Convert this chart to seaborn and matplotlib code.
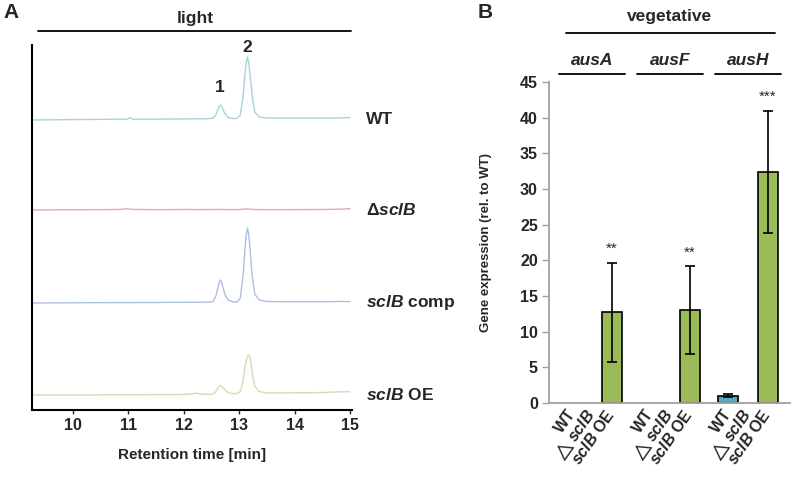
import numpy as np
import pandas as pd
import matplotlib
matplotlib.use('Agg')
import matplotlib.pyplot as plt
import matplotlib.transforms as mtransforms
import seaborn as sns

# ---- panel A: chromatogram traces ----
times = [9.27, 9.8, 10.3, 10.8, 10.98, 11.03, 11.08, 11.5, 12.0, 12.15, 12.22, 12.3,
         12.45, 12.53, 12.58, 12.62, 12.64, 12.66, 12.68, 12.70, 12.74, 12.80, 12.88,
         12.96, 13.02, 13.07, 13.11, 13.13, 13.15, 13.17, 13.19, 13.21, 13.23, 13.28,
         13.36, 13.5, 14.0, 14.5, 14.8, 15.0]
wt_trace = [0, 0.3, 0.5, 0.8, 0.8, 2.2, 0.8, 0.9, 1.0, 1.2, 1.2, 1.2, 1.3, 1.8, 5.0, 11.5,
            14, 15.0, 14, 11.5, 6.5, 2.5, 1.5, 1.5, 5.0, 23, 49, 58, 63, 58, 49, 38, 26, 8,
            3, 2, 2, 2, 2, 2.5]
dsclb_trace = [0, 0.2, 0.3, 0.5, 1.2, 0.8, 0.6, 0.3, 0.5, 0.5, 0.4, 0.4, 0.5, 0.4, 0.6, 0.6,
               0.6, 0.5, 0.5, 0.5, 0.5, 0.4, 0.4, 0.4, 0.5, 0.8, 1.0, 1.0, 1.0, 0.9, 0.8, 0.7,
               0.6, 0.5, 0.4, 0.3, 0.4, 0.5, 0.8, 1.3]
comp_trace = [0, 0.2, 0.3, 0.4, 0.4, 0.4, 0.4, 0.5, 0.7, 0.8, 0.8, 0.8, 0.9, 1.5, 7, 17, 21,
              23, 21, 17, 9, 3, 1.2, 1.0, 5, 27, 58, 69, 75, 69, 58, 44, 30, 9, 3, 1.5, 1.2,
              1.2, 1.5, 1.5]
oe_trace = [0, 0, 0, 0.3, 0.3, 0.3, 0.3, 0.4, 0.5, 1.0, 1.8, 1.0, 0.6, 1.0, 3.5, 7.5, 9, 9.5,
            9, 8, 5, 2.5, 1.5, 1.3, 3.5, 14, 30, 35, 38.5, 40, 39, 33, 24, 9, 3.5, 2, 2.2,
            2.4, 3.2, 3.2]
trace_names = ['WT', 'dsclB', 'comp', 'OE']
trace_labels = ['WT', r'$\Delta\mathit{sclB}$', r'$\mathit{sclB}$ comp', r'$\mathit{sclB}$ OE']

# ---- panel B: gene expression ----
genes = ['ausA', 'ausF', 'ausH']
strains = ['WT', 'dsclB', 'OE']
strain_labels = ['WT', r'$\triangle\mathit{sclB}$', r'$\mathit{sclB}$ OE']
expr_wt = [0, 0, 1.0]
expr_dsclb = [0, 0, 0]
expr_oe = [12.7, 13.0, 32.4]
sd_wt = [0, 0, 0.2]
sd_dsclb = [0, 0, 0]
sd_oe = [6.95, 6.15, 8.6]
stars_oe = ['**', '**', '***']

# styling
sns.set_style('white')
plt.rcParams['font.family'] = ['Liberation Sans', 'DejaVu Sans']
plt.rcParams['font.weight'] = 'bold'
plt.rcParams['mathtext.fontset'] = 'custom'
plt.rcParams['mathtext.rm'] = 'Liberation Sans:bold'
plt.rcParams['mathtext.it'] = 'Liberation Sans:italic:bold'
plt.rcParams['mathtext.bf'] = 'Liberation Sans:bold'
plt.rcParams['mathtext.fallback'] = 'stix'

W, H = 791, 478
fig = plt.figure(figsize=(W / 100, H / 100), dpi=100)

# ================= panel A =================
ax_a = fig.add_axes([32 / W, 1 - 410 / H, 320 / W, 365 / H])
offsets = {'WT': 290, 'dsclB': 200, 'comp': 107, 'OE': 15}
trace_colors = {'WT': '#a9d3dc', 'dsclB': '#e3aaaa', 'comp': '#aebfde', 'OE': '#dcd8b6'}
rows = []
for name, vals in zip(trace_names, [wt_trace, dsclb_trace, comp_trace, oe_trace]):
    for t, v in zip(times, vals):
        rows.append({'time': t, 'signal': v + offsets[name], 'trace': name})
df_a = pd.DataFrame(rows)
sns.lineplot(data=df_a, x='time', y='signal', hue='trace', palette=trace_colors,
             estimator=None, sort=False, legend=False, linewidth=1.0, ax=ax_a)

ax_a.set_xlim(9.26, 15.036)
ax_a.set_ylim(0, 365)
ax_a.set_yticks([])
ax_a.set_xticks(range(10, 16))
ax_a.tick_params(axis='x', direction='out', length=3, width=1, labelsize=11.5,
                 bottom=True, pad=3)
for lab in ax_a.get_xticklabels():
    lab.set_fontweight('bold')
for s in ['top', 'right']:
    ax_a.spines[s].set_visible(False)
for s in ['left', 'bottom']:
    ax_a.spines[s].set_color('black')
    ax_a.spines[s].set_linewidth(1.5)
ax_a.set_xlabel('Retention time [min]', fontsize=11, fontweight='bold')
ax_a.set_ylabel('')
ax_a.xaxis.set_label_coords(0.5, -0.105)

for name, lab in zip(trace_names, trace_labels):
    ax_a.text(1.044, offsets[name], lab, transform=mtransforms.blended_transform_factory(
        ax_a.transAxes, ax_a.transData), fontsize=12.5, fontweight='bold', va='center',
        ha='left', clip_on=False)
ax_a.text(12.64, 323, '1', fontsize=12.5, fontweight='bold', ha='center', va='center')
ax_a.text(13.14, 363, '2', fontsize=12.5, fontweight='bold', ha='center', va='center',
          clip_on=False)
ax_a.plot([0.019, 0.997], [1.038, 1.038], transform=ax_a.transAxes, color='black',
          linewidth=1.3, clip_on=False)
ax_a.text(0.51, 1.073, 'light', transform=ax_a.transAxes, fontsize=12.5, fontweight='bold',
          ha='center', va='center')

# ================= panel B =================
ax_b = fig.add_axes([549 / W, 1 - 403 / H, 241 / W, 321 / H])
values = [expr_wt, expr_dsclb, expr_oe]
sds = [sd_wt, sd_dsclb, sd_oe]
rows = []
for si, s in enumerate(strains):
    for gi, g in enumerate(genes):
        rows.append({'gene': g, 'strain': s, 'value': values[si][gi]})
df_b = pd.DataFrame(rows)
bar_colors = {'WT': '#4bacc6', 'dsclB': '#9bbb59', 'OE': '#9bbb59'}
sns.barplot(data=df_b, x='gene', y='value', hue='strain', order=genes, hue_order=strains,
            palette=bar_colors, saturation=1, width=0.76, gap=0, edgecolor='black',
            linewidth=1.2, errorbar=None, legend=False, ax=ax_b)

bars = sorted(ax_b.patches, key=lambda p: p.get_x())
flat_vals, flat_sd, flat_lab, flat_star = [], [], [], []
for gi in range(len(genes)):
    for si in range(len(strains)):
        flat_vals.append(values[si][gi])
        flat_sd.append(sds[si][gi])
        flat_lab.append(strain_labels[si])
        flat_star.append(stars_oe[gi] if strains[si] == 'OE' else '')

centers = []
for p, v, e, st in zip(bars, flat_vals, flat_sd, flat_star):
    cx = p.get_x() + p.get_width() / 2
    centers.append(cx)
    if p.get_height() == 0:
        p.set_edgecolor('none')
    if e > 0:
        ax_b.errorbar(cx, v, yerr=e, fmt='none', ecolor='black', elinewidth=1.2,
                      capsize=3.8, capthick=1.2)
    if st:
        ax_b.text(cx, v + e + 1.9, st, ha='center', va='center', fontsize=11,
                  fontweight='normal')

ax_b.set_xlim(-0.55, 2.54)
ax_b.set_ylim(0, 45)
ax_b.set_yticks(range(0, 50, 5))
ax_b.set_xticks(centers, labels=flat_lab)
for lab in ax_b.get_xticklabels():
    lab.set_rotation(55)
    lab.set_ha('right')
    lab.set_va('center')
    lab.set_rotation_mode('anchor')
    lab.set_fontweight('bold')
for lab in ax_b.get_yticklabels():
    lab.set_fontweight('bold')
ax_b.tick_params(axis='x', length=0, labelsize=11.5, pad=6)
ax_b.tick_params(axis='y', direction='out', length=5, width=1, color='#a0a0a0',
                 labelsize=11.5, left=True, pad=3)
for s in ['top', 'right']:
    ax_b.spines[s].set_visible(False)
for s in ['left', 'bottom']:
    ax_b.spines[s].set_color('#a0a0a0')
    ax_b.spines[s].set_linewidth(1.3)
ax_b.set_xlabel('')
ax_b.set_ylabel('Gene expression (rel. to WT)', fontsize=9.5, fontweight='bold')
ax_b.yaxis.set_label_coords(-0.235, 0.5)

trans_b = mtransforms.blended_transform_factory(ax_b.transData, ax_b.transAxes)
for gi, g in enumerate(genes):
    ax_b.plot([gi - 0.42, gi + 0.42], [1.025, 1.025], transform=trans_b, color='black',
              linewidth=1.3, clip_on=False)
    ax_b.text(gi, 1.066, g, transform=trans_b, fontsize=12.5, fontweight='bold',
              fontstyle='italic', ha='center', va='center')
ax_b.plot([-0.33, 2.35], [1.153, 1.153], transform=trans_b, color='black',
          linewidth=1.3, clip_on=False)
ax_b.text(1.0, 1.203, 'vegetative', transform=trans_b, fontsize=12.5, fontweight='bold',
          ha='center', va='center')

# panel letters
fig.text(3 / W, 1 - 12 / H, 'A', fontsize=15, fontweight='bold', va='center', ha='left')
fig.text(478 / W, 1 - 12 / H, 'B', fontsize=15, fontweight='bold', va='center', ha='left')

plt.savefig('out.png', dpi=100)
